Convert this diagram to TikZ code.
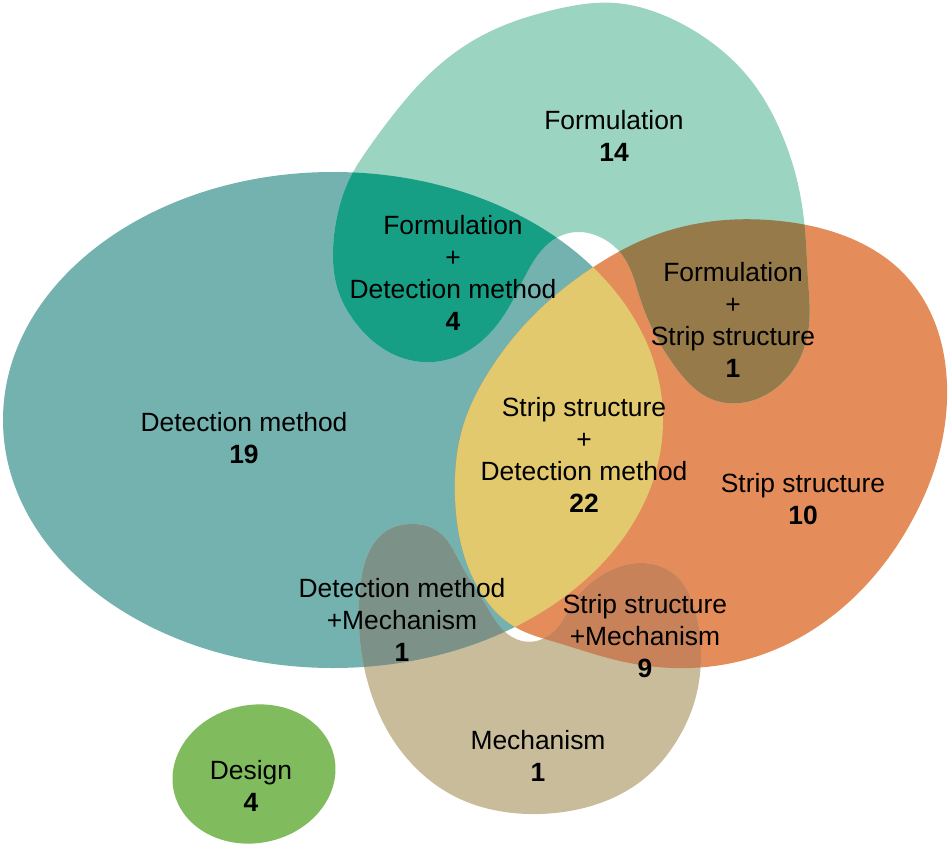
\documentclass[tikz,border=0pt]{standalone}
\usepackage{fontspec}
\setmainfont{Liberation Sans}
\usetikzlibrary{positioning, hobby}

\definecolor{detcol}{HTML}{73B2AF}
\definecolor{formcol}{HTML}{9BD4C0}
\definecolor{stripcol}{HTML}{E48C5A}
\definecolor{mechcol}{HTML}{C9BC9B}
\definecolor{designcol}{HTML}{80BB5E}
\definecolor{formdetcol}{HTML}{169F85}
\definecolor{formstripcol}{HTML}{967A4A}
\definecolor{stripdetcol}{HTML}{E2C96D}
\definecolor{detmechcol}{HTML}{7C9187}
\definecolor{stripmechcol}{HTML}{C8825A}

\newcommand{\detshape}{(333,420) ellipse [x radius=330, y radius=248]}
\newcommand{\stripshape}{plot[closed hobby] coordinates {(592,268) (650,237) (715,221) (780,221) (845,236) (898,268) (933,318) (947,385) (940,450) (915,515) (875,575) (820,625) (755,657) (690,668) (620,661) (555,642) (515,627) (486,600) (464,555) (455,495) (462,430) (490,370) (536,313)}}
\newcommand{\formshape}{plot[closed hobby] coordinates {(615,3) (670,18) (715,45) (753,83) (780,130) (797,180) (805,230) (808,280) (809,325) (798,362) (772,391) (740,403) (707,397) (680,373) (657,338) (640,298) (623,256) (602,238) (577,232) (553,240) (533,262) (513,300) (490,333) (458,356) (423,362) (387,351) (355,322) (337,287) (333,253) (337,217) (350,178) (370,146) (397,110) (437,67) (487,33) (553,10)}}
\newcommand{\mechshape}{plot[closed hobby] coordinates {(410,524) (440,533) (457,557) (470,580) (487,607) (503,630) (522,641) (540,640) (557,628) (575,600) (602,575) (640,563) (675,575) (695,610) (701,655) (695,700) (676,742) (645,778) (603,802) (555,813) (505,812) (460,799) (420,772) (390,735) (370,690) (360,640) (360,590) (370,550) (388,530)}}

\begin{document}
\begin{tikzpicture}[x=1pt, y=-1pt,
	lbl/.style={align=center, inner sep=0pt, font=\fontsize{26.4}{32}\selectfont}]
	\useasboundingbox (0,0) rectangle (948,846);
	\fill[detcol] \detshape;
	\fill[stripcol] \stripshape;
	\fill[formcol] \formshape;
	\fill[mechcol] \mechshape;
	\fill[designcol, rotate around={12:(254,774)}] (254,774) ellipse [x radius=82, y radius=69];
	\begin{scope}
		\clip \detshape;
		\fill[stripdetcol] \stripshape;
	\end{scope}
	\begin{scope}
		\clip \formshape;
		\fill[formdetcol] \detshape;
		\fill[formstripcol] \stripshape;
	\end{scope}
	\begin{scope}
		\clip \mechshape;
		\fill[detmechcol] \detshape;
		\fill[stripmechcol] \stripshape;
	\end{scope}
	\node[lbl] (form) at (614,136) {Formulation\\\textbf{14}};
	\node[lbl] (formdet) at (453,273) {Formulation\\+\\Detection method\\\textbf{4}};
	\node[lbl] (formstrip) at (733,320) {Formulation\\+\\Strip structure\\\textbf{1}};
	\node[lbl] (det) at (244,438) {Detection method\\\textbf{19}};
	\node[lbl] (stripdet) at (584,455) {Strip structure\\+\\Detection method\\\textbf{22}};
	\node[lbl] (strip) at (803,499) {Strip structure\\\textbf{10}};
	\node[lbl] (detmech) at (402,620) {Detection method\\+Mechanism\\\textbf{1}};
	\node[lbl] (stripmech) at (645,636) {Strip structure\\+Mechanism\\\textbf{9}};
	\node[lbl] (mech) at (538,756) {Mechanism\\\textbf{1}};
	\node[lbl] (design) at (251,786) {Design\\\textbf{4}};
\end{tikzpicture}
\end{document}
